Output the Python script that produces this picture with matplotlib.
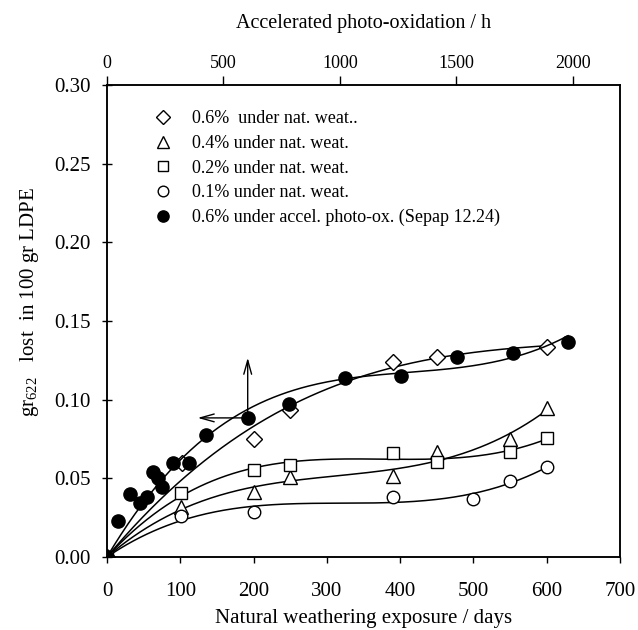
import numpy as np
import matplotlib
matplotlib.use("Agg")
import matplotlib.pyplot as plt

plt.rcParams['font.family'] = ['Liberation Serif', 'DejaVu Serif']
plt.rcParams['mathtext.fontset'] = 'custom'
plt.rcParams['mathtext.rm'] = 'Liberation Serif'
plt.rcParams['mathtext.it'] = 'Liberation Serif:italic'

# natural weathering series (days, gr lost)
d06_days = [0, 102, 200, 250, 390, 450, 600]
d06_vals = [0, 0.0598, 0.075, 0.0935, 0.124, 0.127, 0.1335]

d04_days = [0, 101, 200, 250, 390, 450, 550, 600]
d04_vals = [0, 0.0318, 0.0413, 0.0509, 0.0515, 0.0668, 0.075, 0.0947]

d02_days = [0, 101, 200, 250, 390, 450, 550, 600]
d02_vals = [0, 0.0407, 0.0553, 0.0585, 0.0661, 0.0604, 0.0668, 0.0757]

d01_days = [0, 101, 200, 390, 500, 550, 600]
d01_vals = [0, 0.026, 0.0286, 0.0381, 0.0369, 0.0483, 0.0572]

# accelerated photo-oxidation (hours, gr lost)
acc_hours = [0, 47, 99, 142, 172, 197, 219, 236, 283, 352, 425, 605, 781,
             1021, 1262, 1502, 1742, 1979]
acc_vals = [0, 0.0229, 0.040, 0.0343, 0.038, 0.054, 0.050, 0.0445, 0.0598,
            0.0598, 0.0776, 0.0884, 0.0973, 0.1138, 0.1151, 0.1271, 0.1297, 0.1367]

labels = ["0.6%  under nat. weat..", "0.4% under nat. weat.",
          "0.2% under nat. weat.", "0.1% under nat. weat.",
          "0.6% under accel. photo-ox. (Sepap 12.24)"]

days_per_hour = 0.3179


def fit_curve(x, y, deg=3):
    # least squares polynomial forced through the origin
    x = np.asarray(x, float)
    y = np.asarray(y, float)
    A = np.column_stack([x ** k for k in range(1, deg + 1)])
    c = np.linalg.lstsq(A, y, rcond=None)[0]
    xs = np.linspace(0, x.max(), 200)
    ys = sum(c[k - 1] * xs ** k for k in range(1, deg + 1))
    return xs, ys


fig = plt.figure(figsize=(6.38, 6.30), dpi=100)
ax = fig.add_axes([0.1677, 0.1159, 0.8041, 0.7492])
ax2 = ax.twiny()

series = [(d06_days, d06_vals, 'D', 8.5),
          (d04_days, d04_vals, '^', 9.5),
          (d02_days, d02_vals, 's', 8.5),
          (d01_days, d01_vals, 'o', 9)]
handles = []
for (x, y, m, ms), lab in zip(series, labels[:4]):
    xs, ys = fit_curve(x, y)
    ax.plot(xs, ys, color='black', lw=1.1, zorder=2)
    h, = ax.plot(x, y, linestyle='none', marker=m, ms=ms, mfc='white',
                 mec='black', mew=1.0, label=lab, zorder=3)
    handles.append(h)

xs, ys = fit_curve(acc_hours, acc_vals)
ax2.plot(xs, ys, color='black', lw=1.1, zorder=2)
h, = ax2.plot(acc_hours, acc_vals, linestyle='none', marker='o', ms=9.5,
              mfc='black', mec='black', label=labels[4], zorder=3)
handles.append(h)

ax.set_xlim(0, 700)
ax.set_ylim(0, 0.30)
ax2.set_xlim(0, 700 / days_per_hour)
ax.set_xticks(range(0, 701, 100))
yt = np.arange(0, 0.301, 0.05)
ax.set_yticks(yt)
ax.set_yticklabels(["%.2f" % v for v in yt])
ax2.set_xticks(range(0, 2001, 500))

ax.tick_params(axis='x', direction='out', length=4, width=1.0, labelsize=15, pad=14)
ax.tick_params(axis='y', direction='inout', length=7, width=1.0, labelsize=15, pad=8)
ax2.tick_params(axis='x', direction='out', length=6.5, width=1.0, labelsize=13, pad=3)
for a in (ax, ax2):
    for s in a.spines.values():
        s.set_linewidth(1.1)

ax.set_xlabel("Natural weathering exposure / days", fontsize=15, labelpad=6)
ax.set_ylabel("gr$_{622}$   lost  in 100 gr LDPE", fontsize=15)
ax.yaxis.set_label_coords(-0.129, 0.54)
ax2.set_xlabel("Accelerated photo-oxidation / h", fontsize=14.5, labelpad=19)

# arrows pointing to the relevant axes
arrow = dict(arrowstyle='->,head_length=1.0,head_width=0.28', lw=1.0)
ax.annotate("", xy=(120, 0.0884), xytext=(192, 0.0884), arrowprops=arrow)
ax.annotate("", xy=(192, 0.1284), xytext=(192, 0.0884), arrowprops=arrow)

ax.legend(handles=handles, loc='upper left', bbox_to_anchor=(0.088, 0.946),
          frameon=False, fontsize=13, handletextpad=1.0, labelspacing=0.42,
          handlelength=1.2, borderpad=0, borderaxespad=0, markerscale=0.85)

fig.savefig("out.png", dpi=100)
